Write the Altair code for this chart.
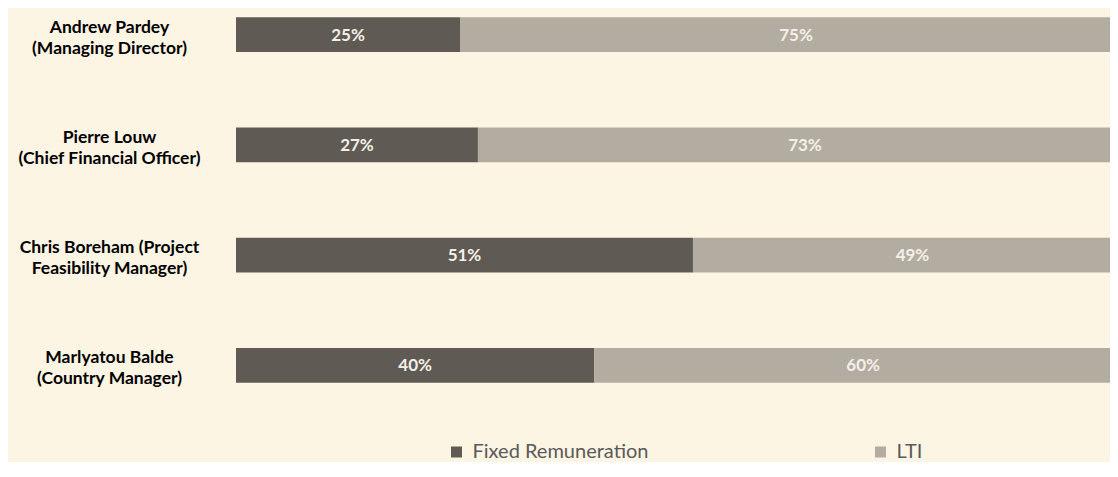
import altair as alt
import pandas as pd

keys = ["Andrew Pardey", "Pierre Louw", "Chris Boreham", "Marlyatou Balde"]
name_labels = [
    "Andrew Pardey\n(Managing Director)",
    "Pierre Louw\n(Chief Financial Officer)",
    "Chris Boreham (Project\nFeasibility Manager)",
    "Marlyatou Balde\n(Country Manager)",
]
components = ["Fixed Remuneration", "LTI"]
fixed = [25, 27, 51, 40]
lti = [75, 73, 49, 60]
colors = ["#5F5B54", "#B3ACA1"]

rows = []
for k, f, l in zip(keys, fixed, lti):
    rows.append({"name": k, "component": components[0], "value": f, "ord": 0})
    rows.append({"name": k, "component": components[1], "value": l, "ord": 1})
df = pd.DataFrame(rows)
names_df = pd.DataFrame({"name": keys, "label": name_labels})

yscale = alt.Scale(domain=keys, paddingInner=0.686, paddingOuter=0.084)
xscale = alt.Scale(domain=[0, 874 / 896 * 100], nice=False, zero=True)

base = alt.Chart(df).transform_stack(
    stack="value", groupby=["name"], as_=["x0", "x1"], sort=[alt.SortField("ord")]
).transform_calculate(mid="(datum.x0 + datum.x1) / 2")

bars = base.mark_bar(clip=True).encode(
    y=alt.Y("name:N", scale=yscale, axis=None),
    x=alt.X("x0:Q", scale=xscale, axis=None),
    x2="x1:Q",
    color=alt.Color(
        "component:N",
        scale=alt.Scale(domain=components, range=colors),
        legend=alt.Legend(
            title=None,
            orient="none",
            legendX=210.5,
            legendY=434,
            direction="horizontal",
            columnPadding=222,
            symbolType="square",
            symbolSize=121,
            symbolStrokeWidth=0,
            labelFont="Lato",
            labelFontSize=20,
            labelColor="#595959",
            labelOffset=6,
            labelLimit=400,
            padding=0,
        ),
    ),
)

pct = base.mark_text(
    font="Lato", fontWeight="bold", fontSize=17, color="#F4F0E8", baseline="middle", dy=1
).encode(
    y=alt.Y("name:N", scale=yscale, axis=None),
    x=alt.X("mid:Q", scale=xscale, axis=None),
    text=alt.Text("label:N"),
).transform_calculate(label="datum.value + '%'")

names = alt.Chart(names_df).mark_text(
    font="Lato", fontWeight="bold", fontSize=17.5, color="#000000",
    align="center", baseline="middle", lineBreak="\n", lineHeight=21, dy=-7,
).encode(
    y=alt.Y("name:N", scale=yscale, axis=None),
    x=alt.value(-126.5),
    text="label:N",
)

chart = alt.layer(bars, pct, names).properties(
    width=874,
    height=384,
    autosize=alt.AutoSizeParams(type="none"),
    padding={"left": 228, "top": 0, "right": 0, "bottom": 70},
    background="#FDF5E4",
).configure_view(stroke=None)

chart.save("out.html", embed_options={"renderer": "svg", "actions": False})
